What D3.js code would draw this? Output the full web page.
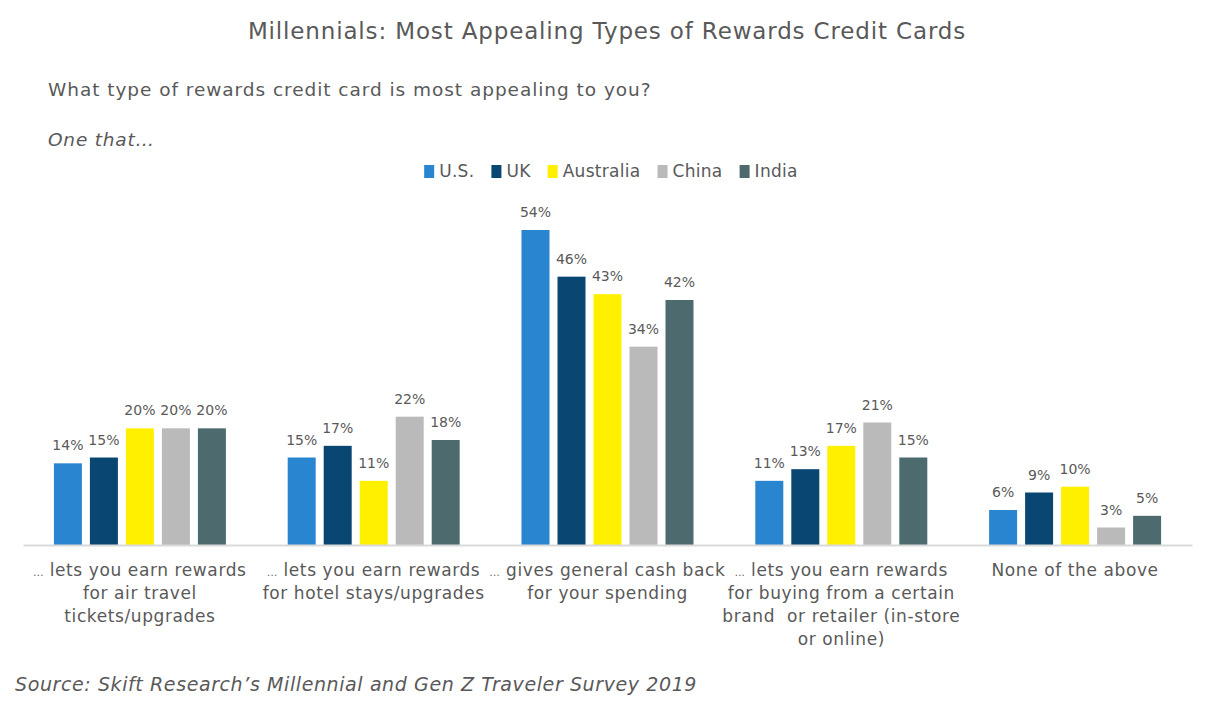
<!DOCTYPE html>
<html><head><meta charset="utf-8">
<script src="https://cdn.jsdelivr.net/npm/d3@7"></script>
<style>body{margin:0;background:#fff;} svg{display:block;}</style>
</head><body>
<svg id="chart" width="1215" height="708"></svg>
<script>
const categories = [
  ["... lets you earn rewards", "for air travel", "tickets/upgrades"],
  ["... lets you earn rewards", "for hotel stays/upgrades"],
  ["... gives general cash back", "for your spending"],
  ["... lets you earn rewards", "for buying from a certain", "brand  or retailer (in-store", "or online)"],
  ["None of the above"]
];
const seriesNames = ["U.S.", "UK", "Australia", "China", "India"];
const usValues = [14, 15, 54, 11, 6];
const ukValues = [15, 17, 46, 13, 9];
const australiaValues = [20, 11, 43, 17, 10];
const chinaValues = [20, 22, 34, 21, 3];
const indiaValues = [20, 18, 42, 15, 5];
const colors = ["#2985d0", "#0a4672", "#fff000", "#bababa", "#4d6b6e"];

const series = [usValues, ukValues, australiaValues, chinaValues, indiaValues];
const font = "'DejaVu Sans', sans-serif";
const textColor = "#595959";
const svg = d3.select("#chart");

const groupW = 172;
const x0 = d3.scaleBand().domain(d3.range(categories.length)).range([23, 1192]).paddingInner(0).paddingOuter(0);
const x1 = d3.scaleBand().domain(d3.range(seriesNames.length)).range([0, groupW]).paddingInner(8/36).paddingOuter(0);
const y = d3.scaleLinear().domain([0, 54]).range([545, 230]);

// Title
svg.append("text").attr("x", 607).attr("y", 39).attr("text-anchor", "middle")
  .attr("font-family", font).attr("font-size", 23).attr("letter-spacing", 0.85).attr("fill", textColor)
  .text("Millennials: Most Appealing Types of Rewards Credit Cards");
svg.append("text").attr("x", 48).attr("y", 96)
  .attr("font-family", font).attr("font-size", 18.5).attr("letter-spacing", 0.95).attr("fill", textColor)
  .text("What type of rewards credit card is most appealing to you?");
svg.append("text").attr("x", 48).attr("y", 146).attr("font-style", "italic")
  .attr("font-family", font).attr("font-size", 18.5).attr("letter-spacing", 0.8).attr("fill", textColor)
  .text("One that…");

// Legend
const legend = svg.append("g");
let lx = 0;
seriesNames.forEach((name, i) => {
  const g = legend.append("g").attr("transform", `translate(${lx},0)`);
  g.append("rect").attr("x", 0).attr("y", -12).attr("width", 10).attr("height", 13).attr("fill", colors[i]);
  const t = g.append("text").attr("x", 15).attr("y", 0)
    .attr("font-family", font).attr("font-size", 17).attr("letter-spacing", 0.3).attr("fill", textColor).text(name);
  lx += 15 + t.node().getComputedTextLength() + 17;
});
const lw = lx - 17;
legend.attr("transform", `translate(${611 - lw/2},177)`);

// Bars
const groups = svg.append("g").selectAll("g").data(categories).join("g")
  .attr("transform", (d, i) => `translate(${x0(i) + (x0.bandwidth() - groupW)/2},0)`);
groups.each(function(d, ci) {
  const g = d3.select(this);
  series.forEach((vals, si) => {
    const v = vals[ci];
    g.append("rect").attr("x", x1(si)).attr("y", y(v))
      .attr("width", x1.bandwidth()).attr("height", y(0) - y(v)).attr("fill", colors[si]);
    g.append("text").attr("x", x1(si) + x1.bandwidth()/2).attr("y", y(v) - 13)
      .attr("text-anchor", "middle").attr("font-family", font).attr("font-size", 14)
      .attr("fill", textColor).text(v + "%");
  });
});

// Axis
const axis = svg.append("g").attr("transform", `translate(0,${y(0)})`)
  .call(d3.axisBottom(x0).tickSize(0).tickFormat(""));
axis.select(".domain").attr("stroke", "#d9d9d9").attr("stroke-width", 2);

// Category labels
categories.forEach((lines, ci) => {
  const cx = x0(ci) + x0.bandwidth()/2;
  lines.forEach((ln, li) => {
    const t = svg.append("text").attr("text-anchor", "middle").attr("x", cx).attr("y", 576 + li*23)
      .attr("font-family", font).attr("font-size", 17).attr("letter-spacing", 0.6)
      .attr("fill", textColor).style("white-space", "pre");
    if (ln.startsWith("...")) {
      t.append("tspan").attr("font-size", 10).attr("letter-spacing", 0.3).text("...");
      t.append("tspan").text(ln.slice(3));
    } else {
      t.text(ln);
    }
  });
});

// Source
svg.append("text").attr("x", 15).attr("y", 691).attr("font-style", "italic")
  .attr("font-family", font).attr("font-size", 19).attr("letter-spacing", 0.6).attr("fill", textColor)
  .text("Source: Skift Research’s Millennial and Gen Z Traveler Survey 2019");
</script>
</body></html>
